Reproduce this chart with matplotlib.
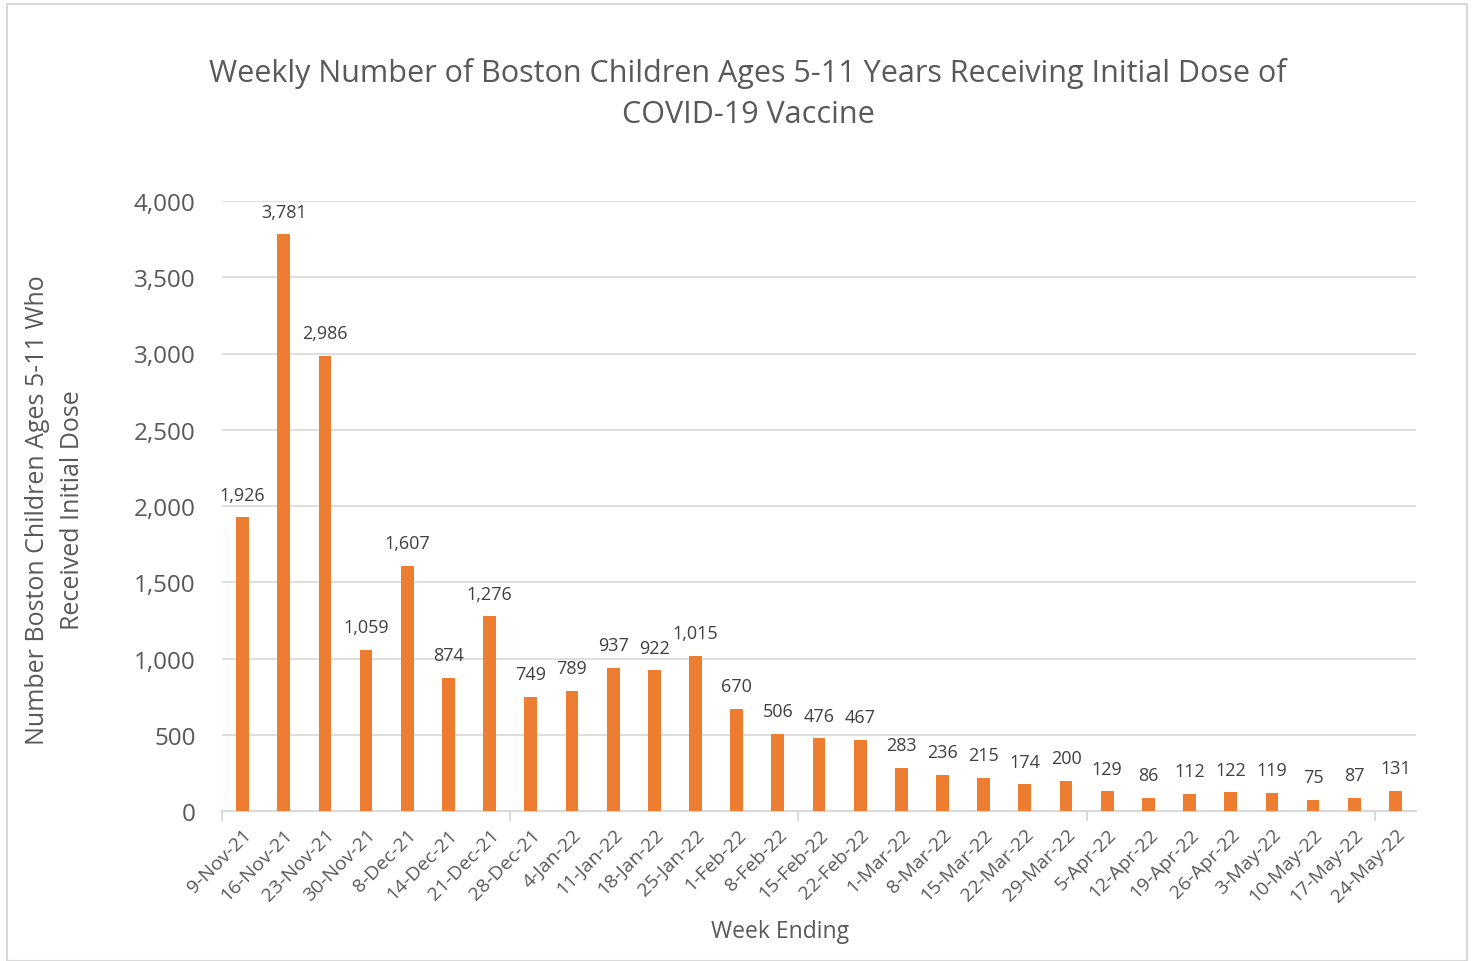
import matplotlib.pyplot as plt
from matplotlib.patches import Rectangle

plt.rcParams['font.family'] = ['Open Sans', 'DejaVu Sans']

weeks = ["9-Nov-21", "16-Nov-21", "23-Nov-21", "30-Nov-21", "8-Dec-21", "14-Dec-21",
         "21-Dec-21", "28-Dec-21", "4-Jan-22", "11-Jan-22", "18-Jan-22", "25-Jan-22",
         "1-Feb-22", "8-Feb-22", "15-Feb-22", "22-Feb-22", "1-Mar-22", "8-Mar-22",
         "15-Mar-22", "22-Mar-22", "29-Mar-22", "5-Apr-22", "12-Apr-22", "19-Apr-22",
         "26-Apr-22", "3-May-22", "10-May-22", "17-May-22", "24-May-22"]
doses = [1926, 3781, 2986, 1059, 1607, 874, 1276, 749, 789, 937, 922, 1015,
         670, 506, 476, 467, 283, 236, 215, 174, 200, 129, 86, 112, 122, 119, 75, 87, 131]

txt = '#595959'
fig = plt.figure(figsize=(14.73, 9.62), dpi=100)
ax = fig.add_axes([222/1473, 1 - 812/962, (1416-222)/1473, (812-202)/962])

x = list(range(len(weeks)))
ax.bar(x, doses, width=0.31, color='#ED7D31', zorder=3)
for xi, v in zip(x, doses):
    ax.text(xi, v + 90, f"{v:,}", ha='center', va='bottom', fontsize=13, color='#404040')

ax.set_xlim(-0.5, len(weeks) - 0.5)
ax.set_ylim(0, 4000)
ax.set_yticks(range(0, 4001, 500))
ax.set_yticklabels([f"{t:,}" for t in range(0, 4001, 500)], fontsize=17.5, color=txt)
ax.yaxis.grid(True, color='#D9D9D9', linewidth=1.2, zorder=0)
ax.tick_params(axis='y', length=0, pad=19)

ax.set_xticks(x)
ax.set_xticklabels(weeks, rotation=45, ha='right', rotation_mode='anchor', fontsize=14, color=txt)
ax.tick_params(axis='x', length=0, pad=10)
# major tick marks every 7 weeks (category boundaries)
ax.set_xticks([i - 0.5 for i in range(0, len(weeks), 7)], minor=True)
ax.tick_params(axis='x', which='minor', length=7, color='#D9D9D9', width=1.5)

for s in ['top', 'right', 'left']:
    ax.spines[s].set_visible(False)
ax.spines['bottom'].set_color('#D9D9D9')
ax.spines['bottom'].set_linewidth(1.5)

fig.text(780/1473, 1 - 932/962, "Week Ending", ha='center', va='center', fontsize=16.5, color=txt)
fig.text(55/1473, 1 - 510/962, "Number Boston Children Ages 5-11 Who\nReceived Initial Dose",
         rotation=90, ha='center', va='center', fontsize=18, color=txt, linespacing=1.5)
fig.text(748/1473, 1 - 94/962,
         "Weekly Number of Boston Children Ages 5-11 Years Receiving Initial Dose of\nCOVID-19 Vaccine",
         ha='center', va='center', fontsize=22, color=txt, linespacing=1.45)

fig.patches.append(Rectangle((7/1473, 0), 1460/1473, 1 - 5/962, transform=fig.transFigure,
                             fill=False, edgecolor='#D9D9D9', linewidth=1.5))

fig.savefig("out.png", dpi=100)
